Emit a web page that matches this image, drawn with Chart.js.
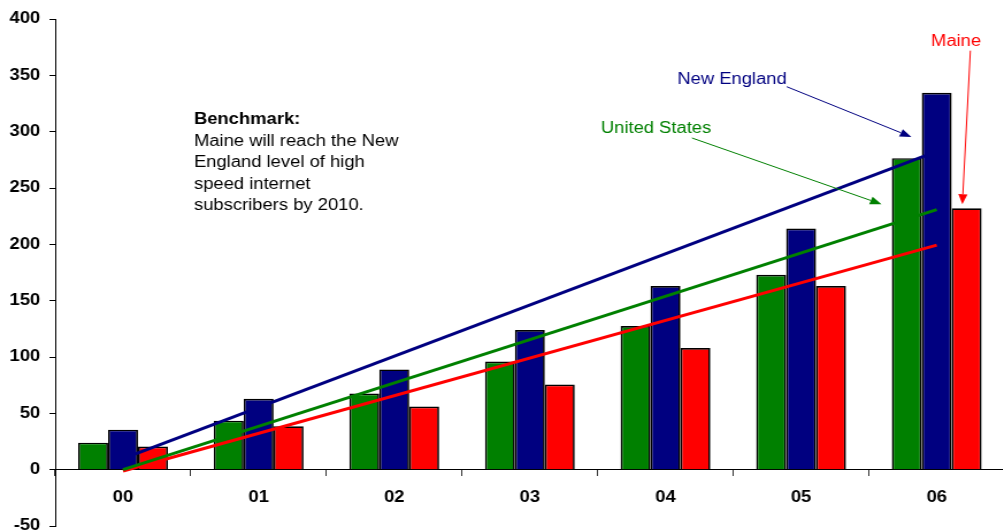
<!DOCTYPE html>
<html>
<head>
<meta charset="utf-8">
<script src="https://cdn.jsdelivr.net/npm/chart.js@4.4.1/dist/chart.umd.min.js"></script>
<style>
  html, body { margin: 0; padding: 0; background: #fff; overflow: hidden; }
  /* the chart is laid out narrow and widened, so the type comes out broad */
  #wrap { width: 875px; height: 530px; transform: scaleX(1.15); transform-origin: 0 0; }
</style>
</head>
<body>
<div id="wrap"><canvas id="chart"></canvas></div>
<script>
const years = ['00', '01', '02', '03', '04', '05', '06'];
const unitedStates = [24, 43.5, 67.5, 96, 127.5, 173, 276.5];
const newEngland = [35.5, 63, 89, 124, 163, 214, 334.5];
const maine = [20.5, 38.5, 56, 75.5, 108, 163, 232];

const yMin = -50;
const yMax = 400;
const yStep = 50;

const GREEN = '#008000';
const NAVY = '#000080';
const RED = '#FF0000';
const FONT = 'Arial, "Liberation Sans", sans-serif';

// least-squares line through a series, kept only at its first and last category
function trendEnds(values) {
  const n = values.length;
  const mx = (n - 1) / 2;
  const my = values.reduce((a, b) => a + b, 0) / n;
  let sxy = 0, sxx = 0;
  values.forEach((v, i) => {
    sxy += (i - mx) * (v - my);
    sxx += (i - mx) * (i - mx);
  });
  const slope = sxy / sxx;
  const ends = values.map(() => null);
  ends[0] = my - slope * mx;
  ends[n - 1] = my + slope * mx;
  return ends;
}

// callouts, placed in (category index, value) space
const callouts = [
  { text: 'New England', color: NAVY, at: [4.087, 342.3], from: [4.894, 339.9], to: [5.813, 295.3] },
  { text: 'United States', color: GREEN, at: [3.523, 299.1], from: [4.195, 294.4], to: [5.593, 235.6] },
  { text: 'Maine', color: RED, at: [5.958, 376.4], from: [6.248, 371.9], to: [6.189, 235.6] },
];
const benchmark = {
  at: [0.523, 306.4],
  title: 'Benchmark:',
  lines: ['Maine will reach the New', 'England level of high', 'speed internet', 'subscribers by 2010.'],
};

function drawArrow(ctx, x1, y1, x2, y2, color) {
  const a = Math.atan2(y2 - y1, x2 - x1);
  const len = 10, half = 4;
  const bx = x2 - len * Math.cos(a), by = y2 - len * Math.sin(a);
  ctx.strokeStyle = color;
  ctx.fillStyle = color;
  ctx.lineWidth = 1;
  ctx.beginPath();
  ctx.moveTo(x1, y1);
  ctx.lineTo(bx, by);
  ctx.stroke();
  ctx.beginPath();
  ctx.moveTo(x2, y2);
  ctx.lineTo(bx + half * Math.sin(a), by - half * Math.cos(a));
  ctx.lineTo(bx - half * Math.sin(a), by + half * Math.cos(a));
  ctx.closePath();
  ctx.fill();
}

const calloutPlugin = {
  id: 'callouts',
  afterDraw(chart) {
    const { ctx, scales: { x, y } } = chart;
    const px = (p) => [x.getPixelForValue(p[0]), y.getPixelForValue(p[1])];
    ctx.save();
    ctx.textBaseline = 'alphabetic';
    ctx.textAlign = 'left';
    callouts.forEach((c) => {
      const [tx, ty] = px(c.at);
      ctx.font = '16px ' + FONT;
      ctx.fillStyle = c.color;
      ctx.fillText(c.text, tx, ty);
      const [fx, fy] = px(c.from);
      const [ex, ey] = px(c.to);
      drawArrow(ctx, fx, fy, ex, ey, c.color);
    });
    const [bx, by] = px(benchmark.at);
    ctx.fillStyle = '#000';
    ctx.font = 'bold 16px ' + FONT;
    ctx.fillText(benchmark.title, bx, by);
    ctx.font = '16px ' + FONT;
    benchmark.lines.forEach((line, i) => ctx.fillText(line, bx, by + 21.5 * (i + 1)));
    ctx.restore();
  },
};

const barStyle = { borderColor: '#000', borderWidth: 1.7, order: 2 };
const trendStyle = { type: 'line', borderWidth: 3, pointRadius: 0, spanGaps: true, order: 1 };

new Chart(document.getElementById('chart'), {
  type: 'bar',
  data: {
    labels: years,
    datasets: [
      { label: 'United States', data: unitedStates, backgroundColor: GREEN, ...barStyle },
      { label: 'New England', data: newEngland, backgroundColor: NAVY, ...barStyle },
      { label: 'Maine', data: maine, backgroundColor: RED, ...barStyle },
      { label: 'New England trend', data: trendEnds(newEngland), borderColor: NAVY, ...trendStyle },
      { label: 'United States trend', data: trendEnds(unitedStates), borderColor: GREEN, ...trendStyle },
      { label: 'Maine trend', data: trendEnds(maine), borderColor: RED, ...trendStyle },
    ],
  },
  options: {
    responsive: true,
    maintainAspectRatio: false,
    animation: false,
    layout: { padding: { top: 19, bottom: 4, left: 0, right: 0 } },
    datasets: {
      bar: { categoryPercentage: 0.662, barPercentage: 1 },
    },
    plugins: {
      legend: { display: false },
      tooltip: { enabled: false },
    },
    scales: {
      x: {
        position: { y: 0 },
        grid: { drawOnChartArea: false, drawTicks: true, tickLength: 6, color: '#333', offset: true },
        border: { display: true, color: '#000', width: 1 },
        ticks: { color: '#000', padding: 12, font: { family: FONT, size: 16, weight: 'bold' } },
      },
      y: {
        min: yMin,
        max: yMax,
        grid: { drawOnChartArea: false, drawTicks: true, tickLength: 5, color: '#000' },
        border: { display: true, color: '#000', width: 1 },
        ticks: { stepSize: yStep, color: '#000', padding: 8, font: { family: FONT, size: 16, weight: 'bold' } },
        afterFit(scale) {
          scale.width = 48;
          scale.paddingTop = 0;
          scale.paddingBottom = 0;
        },
      },
    },
  },
  plugins: [calloutPlugin],
});
</script>
</body>
</html>
